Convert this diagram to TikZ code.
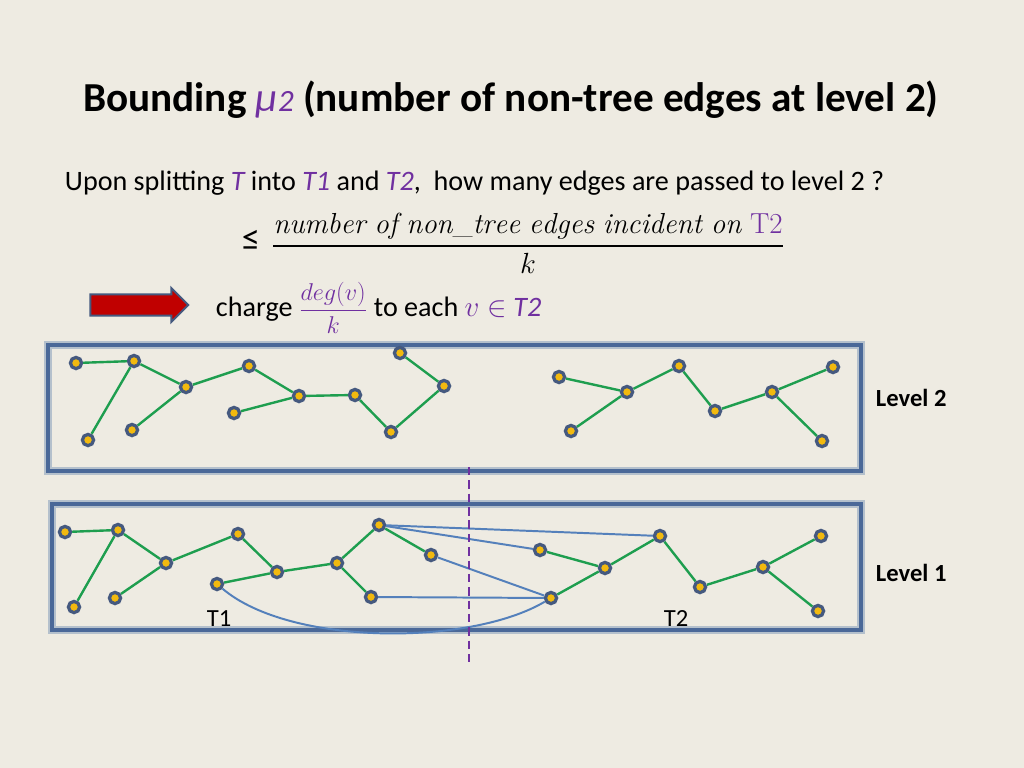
\documentclass[tikz,border=0pt]{standalone}
\usepackage{fontspec}
\usepackage{amsmath}
\newfontfamily\calibri{Carlito}
\usetikzlibrary{positioning,shapes.arrows}
\definecolor{paper}{HTML}{EEEBE2}
\definecolor{frame}{HTML}{4A6898}
\definecolor{glow}{HTML}{B4C0CC}
\definecolor{vfill}{HTML}{F2B90F}
\definecolor{vring}{HTML}{45597F}
\definecolor{treeg}{HTML}{1E9E4F}
\definecolor{nontree}{HTML}{5480BB}
\definecolor{purp}{HTML}{7030A0}
\definecolor{arrowred}{HTML}{C00000}
\tikzset{
  every node/.style={font=\calibri,text=black},
  vtx/.style={circle,draw=vring,fill=vfill,line width=2.3pt,minimum size=2.8mm,inner sep=0pt},
  tree/.style={draw=treeg,line width=1.7pt},
  nontreeedge/.style={draw=nontree,line width=1.4pt},
  levelbox/.style={draw=frame,line width=2.8pt,preaction={draw=glow,line width=6pt},minimum height=3.15cm,inner sep=0pt},
  cutline/.style={draw=purp,line width=2.1pt,dash pattern=on 6pt off 3.5pt},
  lvl/.style={font=\calibri\bfseries\fontsize{17.5}{20}\selectfont,anchor=west},
  tlabel/.style={font=\calibri\fontsize{17.5}{20}\selectfont},
  body/.style={font=\calibri\fontsize{20}{24}\selectfont}
}
\begin{document}
\begin{tikzpicture}[x=0.025cm,y=-0.025cm]
  \fill[paper] (0,0) rectangle (1024,768);
  \useasboundingbox (0,0) rectangle (1024,768);

  % title and question
  \node[font=\calibri\bfseries\fontsize{29.3}{34}\selectfont] (title) at (511,100)
    {Bounding {\mdseries\itshape\color{purp}μ{\fontsize{22}{24}\selectfont 2}} (number of non-tree edges at level 2)};
  \node[body,anchor=west] (question) at (60,183)
    {Upon splitting {\itshape\color{purp}T} into {\itshape\color{purp}T1} and {\itshape\color{purp}T2},\ \ how many edges are passed to level 2 ?};
  \node[font=\calibri\fontsize{26}{28}\selectfont] (leq) at (251,240) {≤};
  \node[font=\fontsize{20.6}{24}\selectfont] (bound) at (528,243)
    {$\genfrac{}{}{1.3pt}{0}{\mathit{number\ of\ non\_tree\ edges\ incident\ on\ }{\color{purp}\mathrm{T2}}}{k}$};

  % charge line
  \node[single arrow,draw=vring,fill=arrowred,line width=1.4pt,minimum height=2.45cm,minimum width=0.8cm,
        single arrow head extend=0.16cm,single arrow head indent=0pt,inner xsep=0pt,inner ysep=0.24cm] (implies) at (134,305) {};
  \node[body,anchor=west] (charge) at (211,308)
    {charge {\color{purp}\fontsize{17}{20}\selectfont$\genfrac{}{}{0.8pt}{0}{deg(v)}{k}$} to each {\color{purp}$v\in$ \itshape T2}};

  % level boxes
  \node[levelbox,minimum width=20.325cm] (box2) at (454.5,408) {};
  \node[levelbox,minimum width=20.225cm] (box1) at (456.5,567) {};
  \node[lvl] (lv2) at (871,398) {Level 2};
  \node[lvl] (lv1) at (871,573) {Level 1};
  \node[tlabel] (t1) at (219,619) {T1};
  \node[tlabel] (t2) at (676,619) {T2};

  % level 2 forest
  \node[vtx] (a1) at (76,363) {};
  \node[vtx] (a2) at (134,361) {};
  \node[vtx] (a3) at (88,440) {};
  \node[vtx] (a4) at (186,387) {};
  \node[vtx] (a5) at (132,430) {};
  \node[vtx] (a6) at (249,366) {};
  \node[vtx] (a7) at (234,413) {};
  \node[vtx] (a8) at (299,396) {};
  \node[vtx] (a9) at (355,395) {};
  \node[vtx] (a10) at (400,353) {};
  \node[vtx] (a11) at (444,386) {};
  \node[vtx] (a12) at (391,432) {};
  \node[vtx] (b1) at (559,377) {};
  \node[vtx] (b2) at (627,392) {};
  \node[vtx] (b3) at (571,431) {};
  \node[vtx] (b4) at (679,366) {};
  \node[vtx] (b5) at (715,411) {};
  \node[vtx] (b6) at (772,392) {};
  \node[vtx] (b7) at (833,367) {};
  \node[vtx] (b8) at (822,441) {};

  % level 1 tree
  \node[vtx] (c1) at (65,532) {};
  \node[vtx] (c2) at (118,530) {};
  \node[vtx] (c3) at (74,607) {};
  \node[vtx] (c4) at (166,563) {};
  \node[vtx] (c5) at (115,598) {};
  \node[vtx] (c6) at (238,534) {};
  \node[vtx] (c7) at (217,584) {};
  \node[vtx] (c8) at (277,572) {};
  \node[vtx] (c9) at (337,563) {};
  \node[vtx] (c10) at (379,525) {};
  \node[vtx] (c11) at (431,555) {};
  \node[vtx] (c12) at (371,597) {};
  \node[vtx] (d1) at (540,550) {};
  \node[vtx] (d2) at (605,568) {};
  \node[vtx] (d3) at (551,598) {};
  \node[vtx] (d4) at (660,536) {};
  \node[vtx] (d5) at (700,587) {};
  \node[vtx] (d6) at (763,567) {};
  \node[vtx] (d7) at (821,536) {};
  \node[vtx] (d8) at (818,611) {};

  % non-tree edges
  \foreach \u/\v in {c10/d4,c10/d1,c11/d3,c12/d3}
    \draw[nontreeedge] (\u) -- (\v);
  \draw[nontreeedge] (c7) .. controls (290,646) and (470,646) .. (d3);

  % tree edges
  \foreach \u/\v in {a1/a2,a2/a3,a2/a4,a4/a5,a4/a6,a6/a8,a7/a8,a8/a9,a9/a12,a12/a11,a11/a10,
                     b1/b2,b2/b3,b2/b4,b4/b5,b5/b6,b6/b7,b6/b8,
                     c1/c2,c2/c3,c2/c4,c4/c5,c4/c6,c6/c8,c7/c8,c8/c9,c9/c10,c9/c12,c10/c11,
                     d1/d2,d2/d3,d2/d4,d4/d5,d5/d6,d6/d7,d6/d8}
    \draw[tree] (\u) -- (\v);

  % split between T1 and T2
  \coordinate (cuttop) at (469,467);
  \coordinate (cutbot) at (469,665);
  \draw[cutline] (cuttop) -- (cutbot);
\end{tikzpicture}
\end{document}
